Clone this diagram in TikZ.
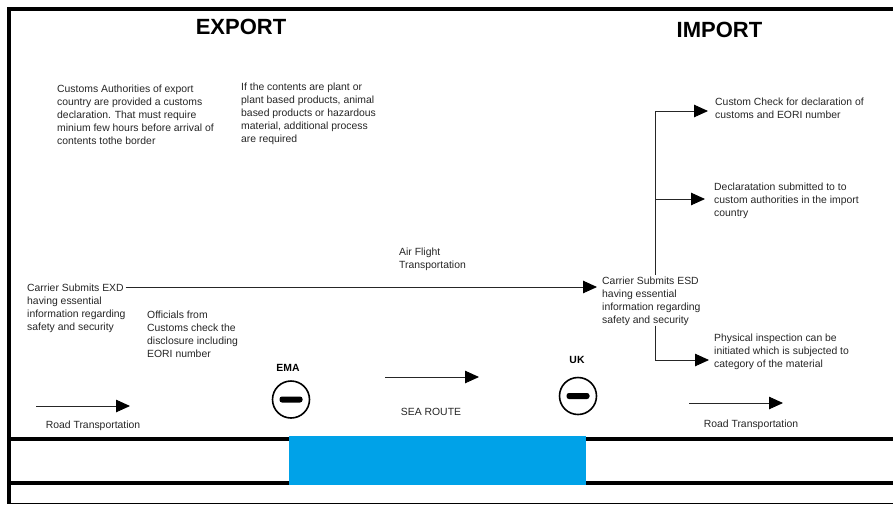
\documentclass[tikz,border=0pt]{standalone}
\usepackage{fontspec}
\setmainfont{Liberation Sans}
\usetikzlibrary{positioning,arrows.meta}
\begin{document}
\begin{tikzpicture}[x=1pt,y=-1pt,
    note node/.style={inner sep=0pt, anchor=north west, align=left, text=black!85, font=\fontsize{10.4}{13}\selectfont},
    head node/.style={inner sep=0pt, font=\fontsize{22}{26}\selectfont\bfseries},
    gate node/.style={circle, draw, line width=1.6pt, minimum size=37pt, inner sep=0pt},
    flow/.style={-{Triangle[length=14pt,width=12.5pt,black]}, line width=0.9pt, black!85},
    wall/.style={line width=4pt}]
    \useasboundingbox (0,0) rectangle (893,504);

    % frame and road bands
    \fill[fill=white] (0,0) rectangle (893,504);
    \node[fill={rgb,255:red,0;green,162;blue,232}, inner sep=0pt, minimum width=297pt, minimum height=49pt] (sea) at (437.5,460.5) {};
    \draw[wall] (7,9) -- (893,9);
    \draw[wall] (9,9) -- (9,504);
    \draw[wall] (9,439) -- (sea.west |- 9,439);
    \draw[wall] (9,483) -- (sea.west |- 9,483);
    \draw[wall] (sea.east |- 9,439) -- (893,439);
    \draw[wall] (sea.east |- 9,483) -- (893,483);
    \draw[line width=1pt] (9,503.5) -- (893,503.5);

    % headings
    \node[head node] (export) at (241,27) {EXPORT};
    \node[head node] (import) at (719.5,30) {IMPORT};

    % notes
    \node[note node] (authorities) at (57,84.5) {Customs Authorities of export\\country are provided a customs\\declaration. That must require\\minium few hours before arrival of\\contents tothe border};
    \node[note node] (plant) at (241,83) {If the contents are plant or\\plant based products, animal\\based products or hazardous\\material, additional process\\are required};
    \node[note node] (air) at (399,247.5) {Air Flight\\Transportation};
    \node[note node] (exd) at (27,283.5) {Carrier Submits EXD\\having essential\\information regarding\\safety and security};
    \node[note node] (officials) at (147,310.5) {Officials from\\Customs check the\\disclosure including\\EORI number};
    \node[note node] (esd) at (602,276.5) {Carrier Submits ESD\\having essential\\information regarding\\safety and security};
    \node[note node] (check) at (715,97.5) {Custom Check for declaration of\\customs and EORI number};
    \node[note node] (declared) at (714,182.5) {Declaratation submitted to to\\custom authorities in the import\\country};
    \node[note node] (physical) at (714,333.5) {Physical inspection can be\\initiated which is subjected to\\category of the material};

    % border points
    \node[gate node] (ema) at (291,399.5) {};
    \node[gate node] (uk) at (578,396) {};
    \fill[rounded corners=2.5pt] (279.5,396.5) rectangle (302.5,402.5);
    \fill[rounded corners=2.5pt] (566.5,393) rectangle (589.5,399);
    \node[inner sep=0pt, font=\fontsize{10.4}{13}\selectfont\bfseries] (ematext) at (288,368) {EMA};
    \node[inner sep=0pt, font=\fontsize{10.4}{13}\selectfont\bfseries] (uktext) at (577,360) {UK};

    % transport arrows
    \coordinate (road1a) at (36,406);
    \coordinate (road1b) at (130,406);
    \coordinate (sea1a) at (385,377);
    \coordinate (sea1b) at (479,377);
    \coordinate (road2a) at (689,403);
    \coordinate (road2b) at (783,403);
    \draw[flow] (road1a) -- (road1b);
    \draw[flow] (sea1a) -- (sea1b);
    \draw[flow] (road2a) -- (road2b);
    \node[note node, anchor=center] (road1) at (93,425.5) {Road Transportation};
    \node[note node, anchor=center] (searoute) at (431,412) {SEA ROUTE};
    \node[note node, anchor=center] (road2) at (751,424.5) {Road Transportation};

    % carrier flows
    \draw[flow, shorten >=5pt] ([yshift=-3.5pt]exd.north east) -- ([yshift=-3.5pt]exd.north east -| esd.west);
    \coordinate (top) at (655,111);
    \coordinate (mid) at (655,199);
    \draw[flow, shorten >=7pt] ([yshift=2pt]esd.north -| top) -- (top) -- (check.west |- top);
    \draw[flow, shorten >=9pt] (mid) -- (declared.west |- mid);
    \draw[flow, shorten >=5pt] (esd.south -| top) -- (655,360) -- (physical.west |- 655,360);
\end{tikzpicture}
\end{document}
